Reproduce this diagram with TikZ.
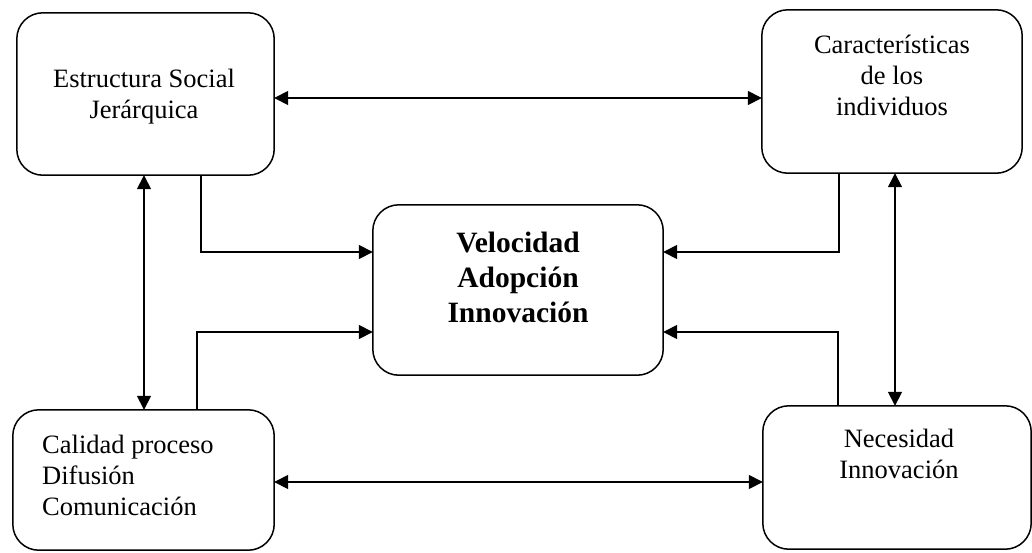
\documentclass[tikz,border=0pt]{standalone}
\usepackage{fontspec}
\setmainfont{Liberation Serif}
\usetikzlibrary{arrows.meta,calc}
\begin{document}
\begin{tikzpicture}[x=1pt,y=-1pt,
  box/.style={draw,line width=1.5pt,rounded corners=26pt},
  lbl/.style={inner sep=0pt,font=\fontsize{26.5}{31}\selectfont},
  blbl/.style={inner sep=0pt,font=\fontsize{29.5}{35}\selectfont\bfseries},
  conn/.style={line width=1.5pt,-{Triangle[length=14pt,width=14pt]}},
  dbl/.style={line width=1.5pt,{Triangle[length=14pt,width=14pt]}-{Triangle[length=14pt,width=14pt]}}]
\useasboundingbox (0,0) rectangle (1032,552);
% boxes
\node[inner sep=0pt] (TL) at (145.5,94) [minimum width=257pt,minimum height=162pt] {};
\draw[box] (TL.south west) rectangle (TL.north east);
\node[inner sep=0pt] (TR) at (892,91.5) [minimum width=260pt,minimum height=163pt] {};
\draw[box] (TR.south west) rectangle (TR.north east);
\node[inner sep=0pt] (C) at (518,290) [minimum width=290pt,minimum height=170pt] {};
\draw[box] (C.south west) rectangle (C.north east);
\node[inner sep=0pt] (BL) at (143.5,480) [minimum width=261pt,minimum height=140pt] {};
\draw[box] (BL.south west) rectangle (BL.north east);
\node[inner sep=0pt] (BR) at (897,477.5) [minimum width=268pt,minimum height=143pt] {};
\draw[box] (BR.south west) rectangle (BR.north east);
% texts
\node[lbl,align=center,anchor=base] (tTL) at (144,118) {Estructura Social\\Jerárquica};
\node[lbl,align=center,anchor=base] (tTR) at (892,115) {Características\\de los\\individuos};
\node[blbl,align=center,anchor=base] (tC) at (518,322) {Velocidad\\Adopción\\Innovación};
\node[lbl,align=left,anchor=base west] (tBL) at (42,515) {Calidad proceso\\Difusión\\Comunicación};
\node[lbl,align=center,anchor=base] (tBR) at (899,478) {Necesidad\\Innovación};
% connectors
\draw[dbl] (TL.east |- 0,98) -- (TR.west |- 0,98);
\draw[dbl] (BL.east |- 0,482) -- (BR.west |- 0,482);
\draw[dbl] (144,0 |- TL.south) -- (144,0 |- BL.north);
\draw[dbl] (895,0 |- TR.south) -- (895,0 |- BR.north);
\draw[conn] (201,0 |- TL.south) |- (C.west |- 0,252);
\draw[conn] (197,0 |- BL.north) |- (C.west |- 0,332);
\draw[conn] (839,0 |- TR.south) |- (C.east |- 0,252);
\draw[conn] (838,0 |- BR.north) |- (C.east |- 0,332);
\end{tikzpicture}
\end{document}
